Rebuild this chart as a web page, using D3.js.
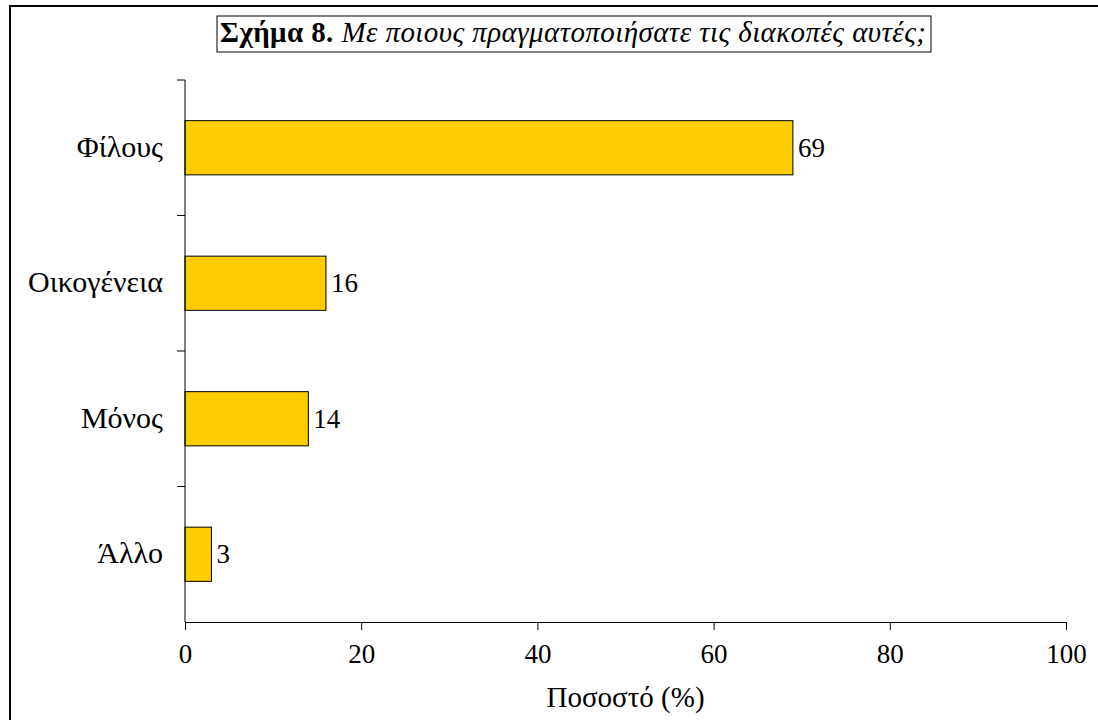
<!DOCTYPE html>
<html>
<head>
<meta charset="utf-8">
<script src="https://cdn.jsdelivr.net/npm/d3@7"></script>
<style>
  body { margin: 0; background: #fff; }
</style>
</head>
<body>
<div id="chart"></div>
<script>
var categories = ["Φίλους", "Οικογένεια", "Μόνος", "Άλλο"];
var values = [69, 16, 14, 3];
var xTicks = [0, 20, 40, 60, 80, 100];

var w = 1098,
    h = 720;
var margin = { top: 80, right: 32, bottom: 98, left: 185 };
var font = "Liberation Serif, Times New Roman, serif";
var fs = 27;

var svg = d3.select("#chart").append("svg")
    .attr("width", w)
    .attr("height", h)
    .attr("font-family", font)
    .attr("font-size", fs);

// outer frame (right/bottom edges fall outside the picture)
svg.append("rect")
    .attr("x", 10)
    .attr("y", 6)
    .attr("width", w + 20)
    .attr("height", h + 20)
    .attr("fill", "none")
    .attr("stroke", "#000")
    .attr("stroke-width", 2);

var x = d3.scaleLinear().domain([0, 100]).range([margin.left, w - margin.right]);
var y = d3.scaleBand().domain(categories).range([margin.top, h - margin.bottom])
    .paddingInner(0.6).paddingOuter(0.3);

var plot = svg.append("g");

// bars
plot.selectAll("rect.bar")
    .data(values)
    .enter().append("rect")
    .attr("class", "bar")
    .attr("x", x(0))
    .attr("y", (d, i) => y(categories[i]))
    .attr("width", d => x(d) - x(0))
    .attr("height", y.bandwidth())
    .attr("fill", "#FFCC00")
    .attr("stroke", "#000")
    .attr("stroke-width", 1);

// value labels
plot.selectAll("text.val")
    .data(values)
    .enter().append("text")
    .attr("class", "val")
    .attr("x", d => x(d) + 5)
    .attr("y", (d, i) => y(categories[i]) + y.bandwidth() / 2 + 9)
    .text(d => d);

// x axis
var xAxis = svg.append("g")
    .attr("transform", "translate(0," + (h - margin.bottom) + ")")
    .call(d3.axisBottom(x).tickValues(xTicks).tickSize(8).tickSizeOuter(0).tickPadding(0));
xAxis.attr("font-family", font).attr("font-size", fs);
xAxis.selectAll("text").attr("dy", null).attr("y", 41);
xAxis.selectAll("line, path").attr("stroke", "#000");

// y axis: ticks at band boundaries, labels centred in bands
var step = (h - margin.bottom - margin.top) / categories.length;
var yAxisG = svg.append("g");
yAxisG.append("line")
    .attr("x1", x(0)).attr("x2", x(0))
    .attr("y1", margin.top).attr("y2", h - margin.bottom)
    .attr("stroke", "#000");
yAxisG.selectAll("line.tick")
    .data(d3.range(categories.length))
    .enter().append("line")
    .attr("class", "tick")
    .attr("x1", x(0) - 8).attr("x2", x(0))
    .attr("y1", i => margin.top + i * step)
    .attr("y2", i => margin.top + i * step)
    .attr("stroke", "#000");
yAxisG.selectAll("text")
    .data(categories)
    .enter().append("text")
    .attr("x", x(0) - 22)
    .attr("y", d => y(d) + y.bandwidth() / 2 + 9)
    .attr("text-anchor", "end")
    .attr("font-size", 30)
    .text(d => d);

// axis title
svg.append("text")
    .attr("x", (x(0) + x(100)) / 2)
    .attr("y", 707)
    .attr("text-anchor", "middle")
    .attr("font-size", 29)
    .text("Ποσοστό (%)");

// title box
var title = svg.append("g");
title.append("rect")
    .attr("x", 217)
    .attr("y", 16)
    .attr("width", 714)
    .attr("height", 36)
    .attr("fill", "#fff")
    .attr("stroke", "#000")
    .attr("stroke-width", 1);
var tt = title.append("text")
    .attr("x", 220)
    .attr("y", 42)
    .attr("font-size", 29)
    .attr("textLength", 706)
    .attr("lengthAdjust", "spacing");
tt.append("tspan").attr("font-weight", "bold").text("Σχήμα 8.");
tt.append("tspan").attr("font-style", "italic").text(" Με ποιους πραγματοποιήσατε τις διακοπές αυτές;");
</script>
</body>
</html>
